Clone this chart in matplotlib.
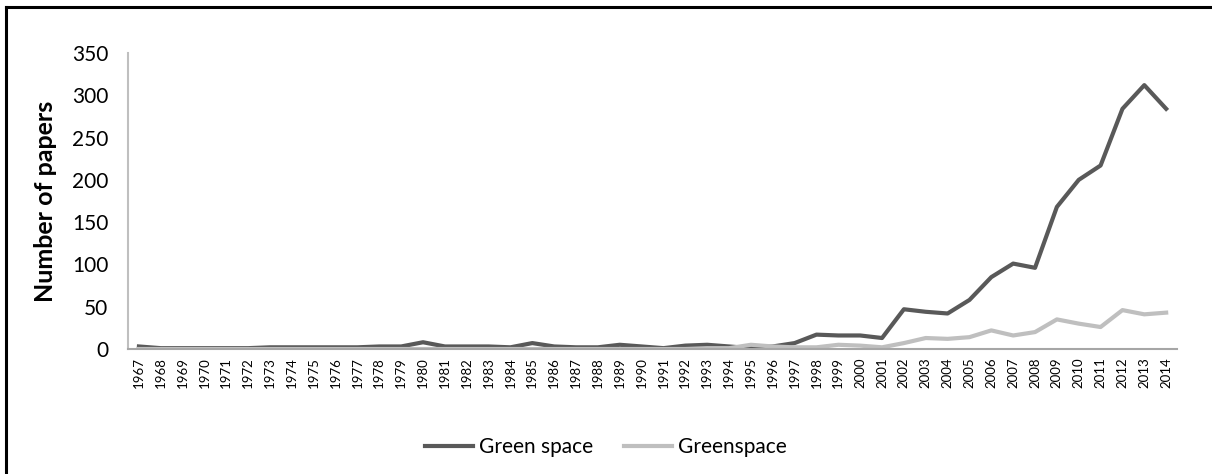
import matplotlib.pyplot as plt
from matplotlib.lines import Line2D

plt.rcParams['font.family'] = ['Lato', 'DejaVu Sans']

years = list(range(1967, 2015))
# Green space (dark line)
green_space = [3, 1, 1, 1, 1, 1, 2, 2, 2, 2, 2, 3, 3, 8, 3, 3, 3, 2, 7, 3,
               2, 2, 5, 3, 1, 4, 5, 3, 1, 3, 7, 17, 16, 16, 13, 47, 44, 42,
               58, 85, 101, 96, 168, 200, 217, 284, 312, 284]
# Greenspace (light line)
greenspace = [0, 0, 0, 0, 0, 0, 0, 0, 0, 0, 0, 0, 0, 0, 0, 0, 0, 0, 0, 0,
              0, 0, 0, 0, 0, 0, 1, 1, 5, 3, 2, 2, 5, 4, 2, 7, 13, 12,
              14, 22, 16, 20, 35, 30, 26, 46, 41, 43]

fig = plt.figure(figsize=(12.12, 4.74), dpi=100)
ax = fig.add_axes([0.1056, 0.2637, 0.8656, 0.6245])

ax.plot(years, green_space, color="#595959", lw=3, label="Green space")
ax.plot(years, greenspace, color="#bfbfbf", lw=3, label="Greenspace")

ax.set_ylim(0, 350)
ax.set_xlim(1966.5, 2014.5)
ax.set_yticks(range(0, 351, 50))
ax.set_xticks(years)
ax.set_xticklabels([str(y) for y in years], rotation=90, fontsize=9.5)
ax.tick_params(axis="y", labelsize=15, length=0, pad=14)
ax.tick_params(axis="x", length=0, pad=6)
ax.set_ylabel("Number of papers", fontsize=18, fontweight="bold")
ax.yaxis.set_label_coords(-0.068, 0.5)

for s in ["top", "right"]:
    ax.spines[s].set_visible(False)
ax.spines["left"].set_color("#bfbfbf")
ax.spines["left"].set_linewidth(1.5)
ax.spines["bottom"].set_color("#a6a6a6")
ax.spines["bottom"].set_linewidth(1.5)

ax.legend(loc="center", bbox_to_anchor=(0.5, 0.057), bbox_transform=fig.transFigure,
          ncol=2, frameon=False, fontsize=15, handlelength=2.3,
          columnspacing=1.45, handletextpad=0.3)

# frame around the figure
fig.add_artist(Line2D([0.005, 0.005], [0, 0.985], color="black", lw=2.2))
fig.add_artist(Line2D([0.005, 1.0], [0.985, 0.985], color="black", lw=2.2))

fig.savefig("out.png", dpi=100)
